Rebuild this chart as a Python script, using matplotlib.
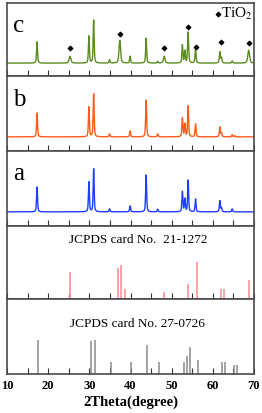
import numpy as np
import matplotlib
matplotlib.use("Agg")
import matplotlib.pyplot as plt

plt.rcParams['font.family'] = ['Liberation Serif', 'DejaVu Serif']
plt.rcParams['mathtext.fontset'] = 'stix'

# ---- data ----
# sample a (blue)
a_pos = [17.3, 29.9, 31.05, 34.9, 39.9, 43.8, 46.6, 52.6, 53.2, 54.0, 55.8, 61.7, 62.1, 64.7]
a_int = [58, 70, 100, 7, 14, 86, 6, 47, 30, 74, 30, 26, 9, 7]
# sample b (orange)
b_pos = [17.3, 29.9, 31.05, 34.9, 39.9, 43.8, 46.6, 52.6, 53.2, 54.0, 55.8, 61.7, 62.1, 64.7, 65.3]
b_int = [56, 70, 100, 7, 14, 86, 7, 44, 30, 72, 30, 23, 9, 5, 3]
# sample c (green) with TiO2
c_pos = [17.3, 25.3, 29.9, 31.05, 34.9, 37.4, 39.9, 43.8, 46.6, 48.2, 52.6, 53.2, 54.0, 55.8, 61.7, 62.1, 64.7, 68.7]
c_int = [50, 16, 63, 100, 8, 53, 16, 58, 4, 16, 42, 28, 72, 33, 26, 12, 5, 30]
c_wid = [0.28, 0.5, 0.28, 0.28, 0.28, 0.45, 0.28, 0.28, 0.28, 0.45, 0.28, 0.28, 0.3, 0.3, 0.3, 0.3, 0.28, 0.5]
# TiO2 markers
tio2_pos = [25.3, 37.4, 48.2, 54.0, 56.0, 62.0, 68.8]
tio2_y = [35, 67, 36, 83, 38, 50, 46]
# JCPDS 21-1272 (anatase TiO2)
ref1_pos = [25.2, 36.95, 37.8, 38.6, 48.1, 53.9, 56.1, 62.1, 62.7, 68.8]
ref1_int = [73, 83, 92, 27, 20, 41, 100, 27, 27, 51]
# JCPDS 27-0726
ref2_pos = [17.45, 30.3, 31.3, 35.2, 40.2, 44.1, 47.0, 52.9, 53.7, 54.4, 56.4, 62.2, 62.95, 65.1, 65.85]
ref2_int = [100, 96, 100, 35, 35, 84, 35, 35, 52, 79, 40, 35, 35, 26, 26]

xticks = [10, 20, 30, 40, 50, 60, 70]


def pattern(x, pos, inten, wid=None):
    y = np.zeros_like(x)
    for i, (p, h) in enumerate(zip(pos, inten)):
        w = 0.28 if wid is None else wid[i]
        g = np.exp(-4 * np.log(2) * ((x - p) / w) ** 2)
        l = 1.0 / (1 + 4 * ((x - p) / w) ** 2)
        y += h * (0.5 * g + 0.5 * l)
    return y


W, H = 262, 413
fig = plt.figure(figsize=(W / 100, H / 100), dpi=100)
left = 7 / W
width = (254 - 7) / W
bounds = [(3, 76), (76, 151), (151, 226), (226, 299), (299, 374)]
axes = []
for top, bot in bounds:
    ax = fig.add_axes([left, 1 - bot / H, width, (bot - top) / H])
    ax.set_xlim(10, 70)
    ax.set_xticks(np.arange(10, 71, 5))
    ax.tick_params(axis='x', direction='in', length=4, width=0.8, color='#333333',
                   labelbottom=False, top=False)
    ax.set_yticks([])
    for s in ax.spines.values():
        s.set_color('#4a4a4a')
        s.set_linewidth(1.2)
    axes.append(ax)

x = np.linspace(10, 70, 4000)
axc, axb, axa, ax1, ax2 = axes

axc.plot(x, pattern(x, c_pos, c_int, c_wid), color='#5b8c1f', lw=1.0)
axc.set_ylim(-30, 140)
axc.scatter(tio2_pos, tio2_y, marker='D', s=5, color='black', zorder=3)
axc.scatter([61.3], [115], marker='D', s=5, color='black')
axc.text(62.1, 115, r'TiO$_2$', fontsize=11, va='center', ha='left')
axc.text(0.025, 0.69, 'c', transform=axc.transAxes, fontsize=18, va='center', ha='left')

axb.plot(x, pattern(x, b_pos, b_int), color='#ff5a1e', lw=1.0)
axb.set_ylim(-33, 142)
axb.text(0.025, 0.68, 'b', transform=axb.transAxes, fontsize=18, va='center', ha='left')

axa.plot(x, pattern(x, a_pos, a_int), color='#1f3cff', lw=1.0)
axa.set_ylim(-33, 142)
axa.text(0.025, 0.70, 'a', transform=axa.transAxes, fontsize=18, va='center', ha='left')

ax1.vlines(ref1_pos, 0, ref1_int, color='#ff9098', lw=1.2)
ax1.set_ylim(0, 197)
ax1.text(0.53, 0.81, 'JCPDS card No.  21-1272', transform=ax1.transAxes,
         fontsize=9.5, ha='center', va='center')

ax2.vlines(ref2_pos, 0, ref2_int, color='#8a8a8a', lw=1.1)
ax2.set_ylim(0, 220)
ax2.text(0.53, 0.67, 'JCPDS card No. 27-0726', transform=ax2.transAxes,
         fontsize=9.5, ha='center', va='center')

ax2.set_xticks(xticks, labels=[str(t) for t in xticks])
ax2.set_xticks(np.arange(15, 70, 10), minor=True)
ax2.tick_params(axis='x', which='both', direction='in', length=4, width=0.8,
                color='#333333', labelbottom=True, labelsize=9, pad=4)
for lab in ax2.get_xticklabels():
    lab.set_fontweight('bold')
ax2.set_xlabel('2Theta(degree)', fontsize=10.5, fontweight='bold', labelpad=3)

fig.savefig('out.png', dpi=100)
